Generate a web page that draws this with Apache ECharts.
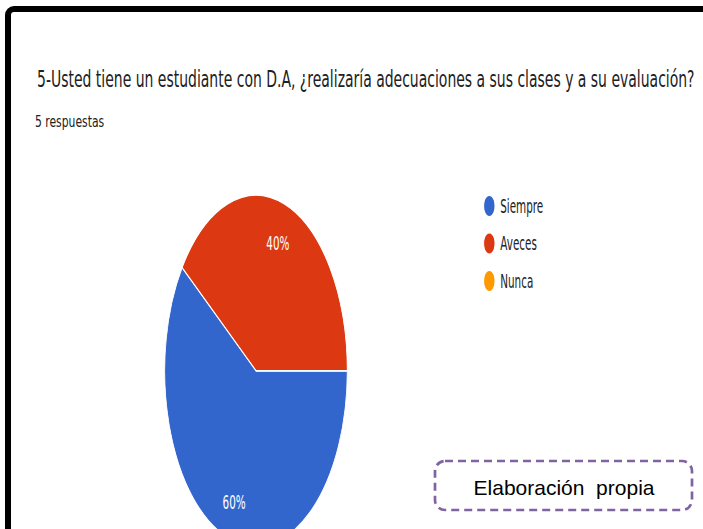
<!DOCTYPE html>
<html>
<head>
<meta charset="utf-8">
<script src="https://cdn.jsdelivr.net/npm/echarts@6/dist/echarts.min.js"></script>
<style>
  html, body { margin: 0; padding: 0; background: #fff; overflow: hidden; }
  #page { position: relative; width: 703px; height: 529px; overflow: hidden; }
  /* the forms screenshot is squeezed horizontally, so the pie sits in a scaled box */
  #pie { position: absolute; left: 0; top: 0; width: 1352px; height: 529px; transform: scaleX(0.52); transform-origin: 0 0; }
  #main { position: absolute; left: 0; top: 0; width: 703px; height: 529px; }
  #frame { position: absolute; left: 5px; top: 6px; width: 900px; height: 700px; border: 6px solid #000; border-radius: 9px; pointer-events: none; }
</style>
</head>
<body>
<div id="page">
  <div id="pie"></div>
  <div id="main"></div>
  <div id="frame"></div>
</div>
<script>
const titleText = '5-Usted tiene un estudiante con D.A, ¿realizaría adecuaciones a sus clases y a su evaluación?';
const categories = ['Siempre', 'Aveces', 'Nunca'];
const counts = [3, 2, 0];
const colors = ['#3366cc', '#dc3912', '#ff9900'];
const noteText = 'Elaboración  propia';

const total = counts.reduce((a, b) => a + b, 0);
const pieData = categories.map((name, i) => ({ name: name, value: counts[i] }));

const pieChart = echarts.init(document.getElementById('pie'), null, { renderer: 'svg' });
pieChart.setOption({
  animation: false,
  color: colors,
  legend: {
    orient: 'vertical',
    left: 924,
    top: 189,
    icon: 'circle',
    itemWidth: 22,
    itemHeight: 22,
    itemGap: 13.5,
    selectedMode: false,
    data: categories,
    textStyle: {
      fontFamily: 'DejaVu Sans',
      fontSize: 20,
      lineHeight: 22,
      color: '#222',
      padding: [0, 0, 0, 5]
    }
  },
  series: [
    {
      type: 'pie',
      radius: 175.5,
      center: [492.3, 370.7],
      startAngle: 0,
      clockwise: true,
      silent: true,
      data: pieData,
      label: { show: false },
      labelLine: { show: false },
      itemStyle: { borderColor: '#fff', borderWidth: 1.5 },
      emphasis: { disabled: true }
    },
    {
      // transparent ring only used to place the percent labels further out
      type: 'pie',
      radius: [91, 175.5],
      center: [492.3, 370.7],
      startAngle: 0,
      clockwise: true,
      silent: true,
      legendHoverLink: false,
      data: pieData,
      itemStyle: { color: 'rgba(0,0,0,0)' },
      labelLine: { show: false },
      label: {
        show: true,
        position: 'inside',
        color: '#fff',
        fontFamily: 'DejaVu Sans',
        fontSize: 20,
        offset: [0, 1.5],
        formatter: function (p) {
          return p.value > 0 ? Math.round(p.percent) + '%' : '';
        }
      },
      emphasis: { disabled: true }
    }
  ]
});

const mainChart = echarts.init(document.getElementById('main'), null, { renderer: 'svg' });
mainChart.setOption({
  animation: false,
  graphic: [
    {
      type: 'text',
      x: 37,
      y: 79,
      scaleX: 0.608,
      style: {
        text: titleText,
        font: '23px "DejaVu Sans"',
        fill: '#202124',
        verticalAlign: 'middle'
      }
    },
    {
      type: 'text',
      x: 35,
      y: 121.5,
      scaleX: 0.72,
      style: {
        text: total + ' respuestas',
        font: '15px "DejaVu Sans"',
        fill: '#202124',
        verticalAlign: 'middle'
      }
    },
    {
      type: 'rect',
      shape: { x: 435, y: 461, width: 257, height: 49, r: 10 },
      style: { fill: '#fff', stroke: '#8064a2', lineWidth: 2.7, lineDash: [8, 5] }
    },
    {
      type: 'text',
      x: 564,
      y: 487,
      style: {
        text: noteText,
        font: '21px "Liberation Sans"',
        fill: '#000',
        align: 'center',
        verticalAlign: 'middle'
      }
    }
  ]
});
</script>
</body>
</html>
